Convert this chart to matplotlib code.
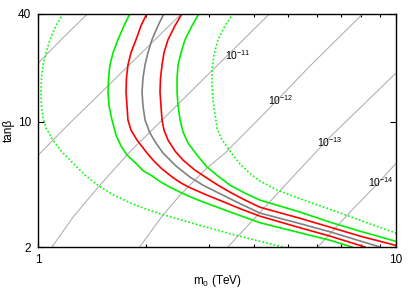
import matplotlib
matplotlib.use('Agg')
import matplotlib.pyplot as plt
from matplotlib.ticker import FixedLocator, NullFormatter

plt.rcParams['font.family'] = ['Liberation Sans', 'DejaVu Sans']
plt.rcParams['mathtext.fontset'] = 'custom'
plt.rcParams['mathtext.rm'] = 'Liberation Sans'
plt.rcParams['mathtext.it'] = 'Liberation Sans:italic'

# Higgs mass contours (m0 in TeV, tan beta)
green1_m0 = [1.804, 1.736, 1.670, 1.618, 1.586, 1.572, 1.566, 1.577, 1.607, 1.649, 1.703, 1.770,
             1.878, 1.962, 2.082, 2.189, 2.334, 2.491, 2.760, 3.079, 3.570, 4.167, 5.391, 6.540, 7.534]
green1_tb = [40, 34.2, 28.6, 24.2, 20.7, 17.5, 14.6, 12.2, 10.2, 8.41, 7.31, 6.51,
             5.83, 5.33, 4.97, 4.63, 4.31, 4.04, 3.69, 3.40, 3.05, 2.73, 2.40, 2.18, 2.0]

red1_m0 = [2.013, 1.937, 1.876, 1.816, 1.781, 1.764, 1.759, 1.770, 1.781, 1.816, 1.888, 2.013,
           2.106, 2.218, 2.380, 2.523, 2.656, 2.962, 3.284, 3.664, 4.167, 5.391, 6.540, 8.19]
red1_tb = [40, 34.2, 28.6, 24.2, 20.7, 17.5, 14.6, 12.2, 10.2, 8.97, 7.89, 6.68,
           6.02, 5.44, 4.87, 4.51, 4.28, 3.89, 3.58, 3.27, 2.97, 2.56, 2.30, 2.0]

gray_m0 = [2.246, 2.161, 2.079, 2.026, 1.988, 1.962, 1.950, 1.962, 1.988, 2.052, 2.133, 2.232,
           2.427, 2.656, 2.887, 3.159, 3.617, 4.167, 5.391, 6.540, 9.02]
gray_tb = [40, 34.2, 28.6, 24.2, 20.7, 17.5, 14.6, 12.2, 10.2, 8.63, 7.59, 6.68,
           5.65, 4.90, 4.42, 4.04, 3.53, 3.09, 2.70, 2.43, 2.0]

red2_m0 = [2.523, 2.411, 2.305, 2.246, 2.218, 2.196, 2.189, 2.203, 2.218, 2.246, 2.305, 2.411,
           2.539, 2.742, 2.962, 3.180, 3.436, 3.784, 4.167, 5.391, 6.540, 7.932, 10.0]
red2_tb = [40, 34.2, 28.6, 24.2, 20.7, 17.5, 14.6, 12.2, 10.2, 8.97, 7.89, 6.85,
           6.10, 5.36, 4.84, 4.42, 4.04, 3.65, 3.33, 2.89, 2.58, 2.30, 2.04]

green2_m0 = [2.814, 2.690, 2.572, 2.506, 2.459, 2.443, 2.443, 2.459, 2.491, 2.539, 2.622, 2.778,
             2.962, 3.180, 3.436, 3.784, 4.167, 5.391, 6.540, 7.932, 10.0]
green2_tb = [40, 34.2, 28.6, 24.2, 20.7, 17.5, 14.6, 12.2, 10.2, 8.75, 7.59, 6.51,
             5.58, 4.97, 4.42, 3.99, 3.65, 3.13, 2.75, 2.45, 2.15]

dot1_m0 = [1.172, 1.121, 1.078, 1.051, 1.031, 1.021, 1.017, 1.021, 1.031, 1.051, 1.099, 1.165,
           1.250, 1.351, 1.459, 1.618, 1.804, 2.000, 2.232, 2.491, 2.832, 3.436, 4.167, 4.832]
dot1_tb = [40, 34.2, 28.6, 24.2, 20.7, 17.5, 14.6, 12.2, 10.5, 9.21, 7.89, 6.76,
           5.87, 5.03, 4.45, 3.91, 3.53, 3.25, 3.03, 2.84, 2.64, 2.37, 2.15, 2.0]

dot2_m0 = [3.503, 3.327, 3.180, 3.099, 3.059, 3.059, 3.079, 3.119, 3.159, 3.242, 3.370, 3.503,
           3.664, 3.907, 4.167, 4.618, 5.153, 5.748, 6.414, 7.932, 10.0]
dot2_tb = [40, 34.2, 28.6, 23.5, 19.4, 16.0, 13.2, 11.0, 9.21, 8.10, 7.21, 6.51,
           5.80, 5.13, 4.66, 4.18, 3.84, 3.55, 3.29, 2.82, 2.39]

# thin gray lines (labelled 10^-11 ... 10^-14)
line1_m0 = [1.377, 1.172, 1.0]
line1_tb = [40, 29.3, 21.2]
line2_m0 = [2.52, 2.16, 1.586, 1.25, 1.0]
line2_tb = [40, 29.7, 16.2, 10.2, 6.51]
line3_m0 = [4.44, 3.44, 2.66, 2.08, 1.80, 1.47, 1.25, 1.092]
line3_tb = [40, 24.2, 14.6, 8.97, 6.76, 4.31, 2.93, 2.0]
line4_m0 = [8.09, 5.75, 4.17, 3.33, 2.96, 2.49, 2.23, 1.92]
line4_tb = [40, 20.4, 10.5, 6.68, 5.51, 3.89, 3.01, 2.0]
line5_m0 = [10.07, 6.54, 5.05, 3.98, 3.39]
line5_tb = [18.9, 8.2, 4.72, 2.82, 2.0]
line6_m0 = [10.07, 8.91, 7.44, 6.05]
line6_tb = [5.94, 4.54, 3.13, 2.0]

label_text = ['10$^{-11}$', '10$^{-12}$', '10$^{-13}$', '10$^{-14}$']
label_m0 = [3.33, 4.39, 6.01, 8.35]
label_tb = [22.1, 12.4, 7.21, 4.31]

x_ticks = [1, 10]
y_ticks = [2, 10, 40]

fig = plt.figure(figsize=(4.15, 2.91), dpi=100)
ax = fig.add_axes([0.0923, 0.1512, 0.8619, 0.8024])

lines = [(line1_m0, line1_tb), (line2_m0, line2_tb), (line3_m0, line3_tb),
         (line4_m0, line4_tb), (line5_m0, line5_tb), (line6_m0, line6_tb)]
for xs, ys in lines:
    ax.plot(xs, ys, color='#a8a8a8', lw=0.7)

for txt, xm, yt in zip(label_text, label_m0, label_tb):
    ax.text(xm, yt, txt, fontsize=7.5, ha='left', va='baseline')

ax.plot(dot1_m0, dot1_tb, color='#00ff00', lw=1.2, ls=(0, (1, 1.3)))
ax.plot(dot2_m0, dot2_tb, color='#00ff00', lw=1.2, ls=(0, (1, 1.3)))
ax.plot(green1_m0, green1_tb, color='#00ee00', lw=1.2)
ax.plot(green2_m0, green2_tb, color='#00ee00', lw=1.2)
ax.plot(red1_m0, red1_tb, color='#ff0000', lw=1.2)
ax.plot(red2_m0, red2_tb, color='#ff0000', lw=1.2)
ax.plot(gray_m0, gray_tb, color='#808080', lw=1.2)

ax.set_xscale('log')
ax.set_yscale('log')
ax.set_xlim(1, 10)
ax.set_ylim(2, 40)

ax.xaxis.set_major_locator(FixedLocator(x_ticks))
ax.xaxis.set_minor_locator(FixedLocator(range(2, 10)))
ax.xaxis.set_major_formatter(plt.FixedFormatter(['1', '10']))
ax.xaxis.set_minor_formatter(NullFormatter())
ax.yaxis.set_major_locator(FixedLocator(y_ticks))
ax.yaxis.set_minor_locator(FixedLocator([]))
ax.yaxis.set_major_formatter(plt.FixedFormatter(['2', '10', '40']))
ax.yaxis.set_minor_formatter(NullFormatter())

ax.tick_params(which='both', direction='in', top=True, right=True, labelsize=8.5, width=0.8)
ax.tick_params(which='major', length=4, pad=5)
ax.tick_params(which='minor', length=2.5)
for s in ax.spines.values():
    s.set_linewidth(1.0)

ax.set_xlabel('m$_0$ (TeV)', fontsize=8.5, labelpad=5)
ax.set_ylabel('tanβ', fontsize=8.5, labelpad=2)

fig.savefig('out.png', dpi=100)
